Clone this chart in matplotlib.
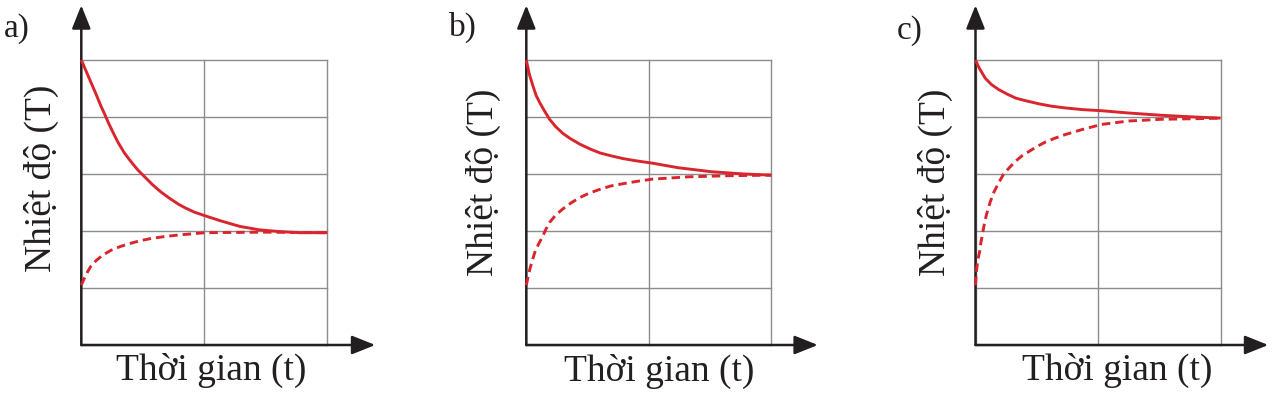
import matplotlib
matplotlib.use("Agg")
import matplotlib.pyplot as plt

# ---- data (x: time in grid columns, y: temperature in grid rows)
panel_labels = ["a)", "b)", "c)"]
ylabel_text = "Nhiệt độ (T)"
xlabel_text = "Thời gian (t)"

hot_t_a = [0, 0.04, 0.08, 0.12, 0.16, 0.19, 0.22, 0.26, 0.30, 0.35, 0.41, 0.46, 0.52, 0.58,
           0.65, 0.72, 0.79, 0.85, 0.92, 1.03, 1.13, 1.29, 1.45, 1.61, 1.78, 2.0]
hot_T_a = [5, 4.80, 4.60, 4.40, 4.19, 4.05, 3.90, 3.72, 3.55, 3.37, 3.20, 3.07, 2.94, 2.81,
           2.68, 2.57, 2.47, 2.40, 2.33, 2.25, 2.18, 2.08, 2.02, 1.99, 1.97, 1.97]
cold_t_a = [0, 0.02, 0.05, 0.08, 0.12, 0.17, 0.24, 0.32, 0.41, 0.48, 0.57, 0.67, 0.79, 0.9, 1.0, 1.5, 2.0]
cold_T_a = [1.05, 1.15, 1.28, 1.39, 1.48, 1.57, 1.66, 1.73, 1.79, 1.83, 1.87, 1.90, 1.93, 1.95, 1.97, 1.98, 1.97]

hot_t_b = [0, 0.025, 0.055, 0.08, 0.11, 0.15, 0.19, 0.24, 0.30, 0.36, 0.44, 0.52, 0.60, 0.69,
           0.79, 0.90, 1.03, 1.24, 1.51, 1.78, 2.0]
hot_T_b = [5, 4.75, 4.54, 4.38, 4.25, 4.10, 3.96, 3.83, 3.71, 3.62, 3.52, 3.44, 3.37, 3.32,
           3.27, 3.23, 3.19, 3.11, 3.04, 3.00, 2.98]
cold_t_b = [0, 0.015, 0.03, 0.05, 0.07, 0.10, 0.13, 0.16, 0.19, 0.24, 0.30, 0.37, 0.44, 0.52,
            0.60, 0.69, 0.79, 0.90, 1.03, 1.32, 1.65, 2.0]
cold_T_b = [1.05, 1.20, 1.34, 1.49, 1.63, 1.77, 1.89, 2.03, 2.15, 2.28, 2.39, 2.50, 2.59, 2.67,
            2.73, 2.79, 2.83, 2.87, 2.91, 2.95, 2.97, 2.98]

hot_t_c = [0, 0.03, 0.08, 0.13, 0.19, 0.26, 0.33, 0.42, 0.52, 0.62, 0.73, 0.87, 1.03, 1.25, 1.52, 1.79, 2.0]
hot_T_c = [5, 4.86, 4.68, 4.57, 4.48, 4.40, 4.33, 4.28, 4.23, 4.19, 4.16, 4.13, 4.11, 4.07, 4.03, 4.00, 3.98]
cold_t_c = [0, 0.005, 0.01, 0.02, 0.033, 0.045, 0.06, 0.075, 0.095, 0.12, 0.15, 0.19, 0.23, 0.28,
            0.33, 0.38, 0.44, 0.50, 0.57, 0.65, 0.73, 0.87, 1.03, 1.25, 1.52, 1.79, 2.0]
cold_T_c = [1.05, 1.20, 1.34, 1.50, 1.63, 1.81, 1.98, 2.16, 2.33, 2.51, 2.68, 2.85, 3.00, 3.12,
            3.23, 3.32, 3.40, 3.48, 3.56, 3.63, 3.69, 3.78, 3.87, 3.93, 3.96, 3.97, 3.98]

hot_t = [hot_t_a, hot_t_b, hot_t_c]
hot_T = [hot_T_a, hot_T_b, hot_T_c]
cold_t = [cold_t_a, cold_t_b, cold_t_c]
cold_T = [cold_T_a, cold_T_b, cold_T_c]

grid_x = [0, 1, 2]
grid_y = [0, 1, 2, 3, 4, 5]

# ---- layout (pixels, measured from top-left)
W, H = 1273, 394
ax_left = [81.3, 526.3, 975.5]
ax_width = [246, 245, 245]
ax_top, ax_bottom = 60, 345
xarrow_tip = [2.39, 2.38, 2.39]
yarrow_tip = 5.96
letter_pos = [(4, 29), (449, 27), (897, 31)]
ylab_pos = [(41, 178), (483, 182), (935, 182)]
xlab_pos = [(211.5, 380), (659, 381), (1117.5, 380)]

red = '#d9262e'
gray = '#8c8c8c'
dark = '#231f20'
serif = ['Liberation Serif', 'DejaVu Serif']

fig = plt.figure(figsize=(W / 100, H / 100), dpi=100)

def fx(px):
    return px / W

def fy(py):
    return 1 - py / H

for i in range(3):
    ax = fig.add_axes([fx(ax_left[i]), fy(ax_bottom), ax_width[i] / W, (ax_bottom - ax_top) / H])
    ax.set_xlim(0, 2)
    ax.set_ylim(0, 5)
    for s in ax.spines.values():
        s.set_visible(False)
    ax.set_xticks(grid_x)
    ax.set_yticks(grid_y)
    ax.tick_params(length=0, labelbottom=False, labelleft=False)
    ax.grid(True, color=gray, lw=1.0)
    for gl in ax.get_xgridlines() + ax.get_ygridlines():
        gl.set_clip_on(False)
    ax.set_axisbelow(True)

    # axes with arrow heads
    ax.annotate('', xy=(xarrow_tip[i], 0), xytext=(0, 0), xycoords='data', annotation_clip=False,
                arrowprops=dict(arrowstyle='-|>,head_length=0.55,head_width=0.22', color=dark, lw=1.8,
                                shrinkA=0, shrinkB=0, mutation_scale=26), zorder=4)
    ax.annotate('', xy=(0, yarrow_tip), xytext=(0, 0), xycoords='data', annotation_clip=False,
                arrowprops=dict(arrowstyle='-|>,head_length=0.55,head_width=0.22', color=dark, lw=1.8,
                                shrinkA=0, shrinkB=0, mutation_scale=26), zorder=4)

    ax.plot(hot_t[i], hot_T[i], color=red, lw=2.1, clip_on=False, zorder=5,
            solid_joinstyle='round', solid_capstyle='butt')
    ax.plot(cold_t[i], cold_T[i], color=red, lw=2.1, clip_on=False, zorder=5,
            linestyle=(0, (2.9, 1.7)))

    fig.text(fx(letter_pos[i][0]), fy(letter_pos[i][1]), panel_labels[i], ha='left', va='center',
             fontsize=24, family=serif, color=dark)
    fig.text(fx(ylab_pos[i][0]), fy(ylab_pos[i][1]), ylabel_text, rotation=90, ha='center',
             va='center', fontsize=27, family=serif, color=dark)
    fig.text(fx(xlab_pos[i][0]), fy(xlab_pos[i][1]), xlabel_text, ha='center', va='baseline',
             fontsize=27, family=serif, color=dark)

fig.savefig('out.png', dpi=100, facecolor='white')
